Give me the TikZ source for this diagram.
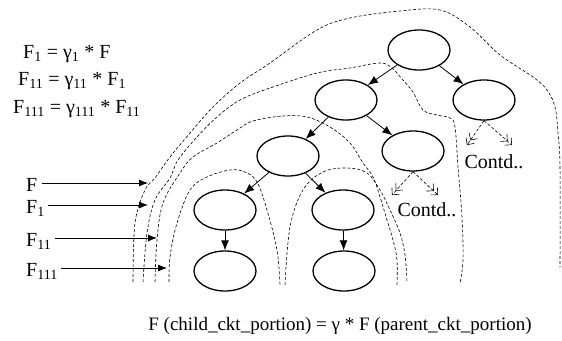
\documentclass[tikz,border=0pt]{standalone}
\usepackage{fontspec}
\setmainfont{Liberation Serif}
\usetikzlibrary{arrows.meta,shapes.geometric}
\begin{document}
\begin{tikzpicture}[x=1pt,y=-1pt,
  txt/.style={font=\fontsize{20}{24}\selectfont, inner sep=0pt},
  vtx/.style={draw, ellipse, line width=1.3pt, minimum width=62pt, minimum height=40pt, inner sep=0pt},
  link/.style={-{Latex[length=10pt,width=8pt]}, line width=0.8pt},
  feed/.style={-{Latex[length=9pt,width=7pt]}, line width=0.8pt},
  cut/.style={dash pattern=on 3pt off 2pt, line width=0.6pt},
  more/.style={dash pattern=on 3pt off 2pt, line width=0.6pt,
    -{Straight Barb[length=5pt,width=10pt,line width=0.6pt] Straight Barb[length=5pt,width=10pt,line width=0.6pt]}}
]
\useasboundingbox (0,0) rectangle (562,340);

% tree of circuit portions
\node[vtx] (r)   at (419,50)  {};
\node[vtx] (a)   at (346,100) {};
\node[vtx] (b)   at (484,100) {};
\node[vtx] (aa)  at (288,156) {};
\node[vtx] (ab)  at (413,151) {};
\node[vtx] (aaa) at (225,210) {};
\node[vtx] (aab) at (343,210) {};
\node[vtx] (x1)  at (225,271) {};
\node[vtx] (x2)  at (344,271) {};

\draw[link] (r) -- (a);
\draw[link] (r) -- (b);
\draw[link] (a) -- (aa);
\draw[link] (a) -- (ab);
\draw[link] (aa) -- (aaa);
\draw[link] (aa) -- (aab);
\draw[link] (aaa) -- (x1);
\draw[link] (aab) -- (x2);

% continuation of the unexpanded branches
\coordinate (p1) at (392,195);
\coordinate (p2) at (438,195);
\coordinate (q1) at (467,145);
\coordinate (q2) at (512,145);
\draw[more] (ab.south) -- (p1);
\draw[more] (ab.south) -- (p2);
\draw[more] (b.south) -- (q1);
\draw[more] (b.south) -- (q2);
\node[txt] (c1) at (427,210) {Contd..};
\node[txt] (c2) at (494,162) {Contd..};

% boundaries of the nested portions
\draw[cut] plot[smooth, tension=0.6] coordinates {(133,282) (135,223) (145,190) (155,178) (170,157) (190,133) (213,107) (240,83) (270,63) (317,30) (350,18) (400,11) (440,10) (470,27) (500,55) (533,77) (547,90) (555,107) (558,133) (560,167) (560,267)};
\draw[cut] plot[smooth, tension=0.6] coordinates {(143,282) (147,233) (155,200) (170,178) (178,160) (197,137) (217,117) (240,100) (270,88) (317,73) (350,68) (380,63) (392,68) (402,79) (413,92) (423,110) (437,115) (450,118) (455,127) (458,167) (462,217) (463,260) (460,283)};
\draw[cut] plot[smooth, tension=0.6] coordinates {(155,282) (157,240) (163,203) (180,173) (193,157) (217,143) (237,130) (253,121) (283,116) (307,117) (330,127) (350,143) (363,163) (373,177) (380,197) (387,220) (393,240) (397,260) (397,285)};
\draw[cut] plot[smooth, tension=0.6] coordinates {(169,282) (170,257) (177,223) (190,190) (207,177) (230,170) (245,172) (257,182) (267,210) (277,250) (280,285)};
\draw[cut] plot[smooth, tension=0.6] coordinates {(285,285) (290,227) (303,190) (323,172) (347,168) (367,173) (380,190) (390,210) (400,233) (405,255) (407,282)};

% inputs at each level
\node[txt, anchor=base west] (lF)   at (26,191) {F};
\node[txt, anchor=base west] (lF1)  at (26,213) {F\textsubscript{1}};
\node[txt, anchor=base west] (lF11) at (26,246) {F\textsubscript{11}};
\node[txt, anchor=base west] (lF111) at (26,276) {F\textsubscript{111}};
\coordinate (tF)   at (148,183);
\coordinate (tF1)  at (148,205);
\coordinate (tF11) at (157,238);
\coordinate (tF111) at (167,268);
\draw[feed] ([xshift=4pt]lF.east |- tF) -- (tF);
\draw[feed] ([xshift=3pt]lF1.east |- tF1) -- (tF1);
\draw[feed] ([xshift=3pt]lF11.east |- tF11) -- (tF11);
\draw[feed] ([xshift=3pt]lF111.east |- tF111) -- (tF111);

% scaling relations
\node[txt, anchor=base west] (e1) at (23,58)  {F\textsubscript{1} = γ\textsubscript{1} * F};
\node[txt, anchor=base west] (e2) at (18,85)  {F\textsubscript{11} = γ\textsubscript{11} * F\textsubscript{1}};
\node[txt, anchor=base west] (e3) at (13,113) {F\textsubscript{111} = γ\textsubscript{111} * F\textsubscript{11}};
\node[txt, font=\fontsize{19}{23}\selectfont, anchor=base] (cap) at (340,330) {F (child\_ckt\_portion) = γ * F (parent\_ckt\_portion)};
\end{tikzpicture}
\end{document}
